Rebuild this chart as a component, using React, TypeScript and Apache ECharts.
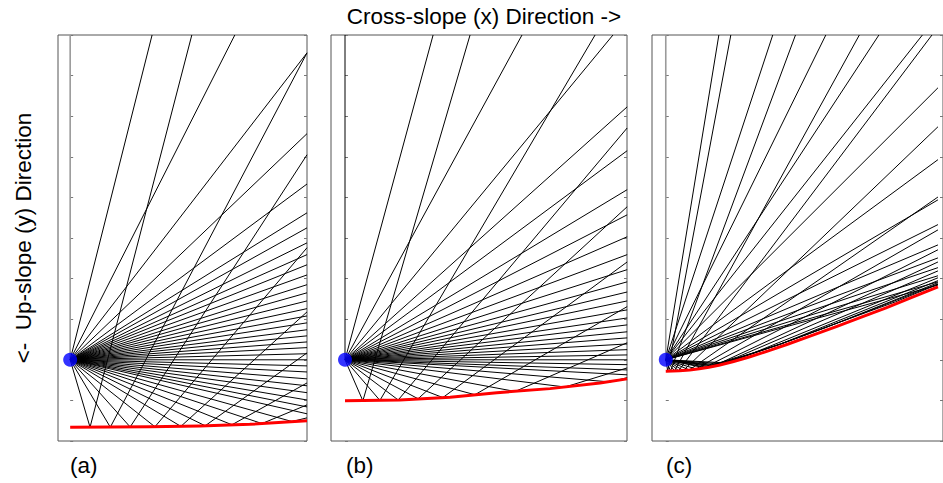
import { useEffect, useRef } from "react";
import * as echarts from "echarts";

type Pt = [number, number];

// Shared axis range (tick units); origin of every fan is (0, 0)
const Y_MIN = -2;
const Y_MAX = 8;
const X_RANGE_A: Pt = [-0.3, 5.84];
const X_RANGE_B: Pt = [-0.345, 6.946];
const X_RANGE_C: Pt = [-0.345, 6.946];

// ---------- Panel (a) ----------
const TOP_EXITS_A = [2.02, 4.06];
const RIGHT_X_A = 5.84;
const RIGHT_EXITS_A = [7.56, 5.57, 4.33, 3.62, 3.25, 2.88, 2.59, 2.34, 2.09, 1.85, 1.65, 1.45, 1.26, 1.08, 0.91, 0.74, 0.59, 0.44, 0.3, 0.15, 0, -0.15, -0.3, -0.47, -0.64, -0.81, -0.99, -1.16, -1.33];
const TURN_X_A = [0.49, 0.99, 1.48, 2.09, 2.73, 3.33, 3.99, 4.73, 5.47];
const TURN_Y_A = [-1.66, -1.66, -1.655, -1.65, -1.64, -1.625, -1.6, -1.57, -1.52];
const RETURN_EXIT_A: Pt[] = [[3.0, 8], [5.84, 7.56], [5.84, 5.05], [5.84, 2.76], [5.84, 1.18], [5.84, 0.17], [5.84, -0.57], [5.84, -1.11], [5.84, -1.43]];
const ENVELOPE_X_A = [0, 1.97, 3.2, 4.43, 5.84];
const ENVELOPE_Y_A = [-1.66, -1.65, -1.63, -1.59, -1.5];

// ---------- Panel (b) ----------
const TOP_EXITS_B = [2.17, 4.36, 6.6];
const RIGHT_X_B = 6.95;
const RIGHT_EXITS_B = [6.23, 5.15, 4.19, 3.57, 3.03, 2.59, 2.22, 1.92, 1.67, 1.45, 1.23, 1.03, 0.86, 0.69, 0.54, 0.39, 0.25, 0.12, 0, -0.12, -0.25, -0.37];
const TURN_X_B = [0.44, 0.86, 1.31, 1.8, 2.41, 3.2, 4.19, 5.42, 6.53];
const TURN_Y_B = [-1.01, -1.0, -0.99, -0.96, -0.93, -0.86, -0.78, -0.67, -0.545];
const RETURN_EXIT_B: Pt[] = [[3.08, 8], [6.16, 8], [6.95, 5.71], [6.95, 3.77], [6.95, 2.41], [6.95, 1.31], [6.95, 0.42], [6.95, -0.2], [6.95, -0.44]];
const ENVELOPE_X_B = [0, 1.35, 2.59, 3.74, 5.05, 6.28, 6.95];
const ENVELOPE_Y_B = [-1.01, -0.99, -0.92, -0.81, -0.71, -0.57, -0.47];

// ---------- Panel (c) ----------
const TOP_EXITS_C = [1.33, 2.68, 4.01, 5.34, 6.43];
const RIGHT_X_C = 6.82;
const RIGHT_EXITS_C = [6.7, 4.93, 3.94, 3.33, 2.83, 2.51, 2.27, 2.07, 1.92, 1.84];
const TURN_X_C = [0.05, 0.12, 0.22, 0.32, 0.44, 0.59, 0.76, 0.96, 1.21];
const TURN_Y_C = [-0.275, -0.275, -0.272, -0.27, -0.265, -0.25, -0.225, -0.195, -0.15];
const RETURN_EXIT_C: Pt[] = [[1.63, 8], [3.25, 8], [4.85, 8], [6.67, 8], [6.82, 5.74], [6.82, 4.01], [6.82, 3.2], [6.82, 2.71], [6.82, 2.41]];
const HUGGING_C: Pt[][] = [
  [[1.0, -0.18], [1.8, 0.07], [6.82, 2.19]],
  [[1.1, -0.165], [2.2, 0.17], [6.82, 2.02]],
  [[1.2, -0.145], [2.88, 0.39], [6.82, 1.95]],
  [[1.3, -0.125], [2.88, 0.39], [4.0, 0.79], [6.82, 1.9]],
  [[1.4, -0.1], [2.88, 0.39], [4.53, 0.99], [6.82, 1.87]],
  [[1.5, -0.075], [2.88, 0.39], [4.53, 0.99], [5.76, 1.43], [6.82, 1.86]],
];
const ENVELOPE_X_C = [0, 0.34, 0.6, 0.84, 1.08, 1.33, 1.7, 2.07, 2.55, 3.05, 3.65, 4.29, 4.9, 5.52, 6.15, 6.82];
const ENVELOPE_Y_C = [-0.283, -0.271, -0.25, -0.222, -0.183, -0.135, -0.04, 0.062, 0.215, 0.382, 0.595, 0.825, 1.05, 1.281, 1.53, 1.798];

const PANEL_LABELS = ["(a)", "(b)", "(c)"];
const TITLE_X = "Cross-slope (x) Direction ->";
const TITLE_Y = "<-  Up-slope (y) Direction";

function buildCurves(
  top: number[],
  rightX: number,
  right: number[],
  tx: number[],
  ty: number[],
  ret: Pt[],
  extra: Pt[][]
): Pt[][] {
  const curves: Pt[][] = [];
  top.forEach((x) => curves.push([[0, 0], [x, Y_MAX]]));
  right.forEach((y) => curves.push([[0, 0], [rightX, y]]));
  tx.forEach((x, i) => curves.push([[0, 0], [x, ty[i]], ret[i]]));
  extra.forEach((c) => curves.push([[0, 0], ...c]));
  return curves;
}

const PANELS = [
  {
    range: X_RANGE_A,
    curves: buildCurves(TOP_EXITS_A, RIGHT_X_A, RIGHT_EXITS_A, TURN_X_A, TURN_Y_A, RETURN_EXIT_A, []),
    env: ENVELOPE_X_A.map((x, i) => [x, ENVELOPE_Y_A[i]]),
    axisColor: "#9a9a9a",
    axisWidth: 1.6,
  },
  {
    range: X_RANGE_B,
    curves: buildCurves(TOP_EXITS_B, RIGHT_X_B, RIGHT_EXITS_B, TURN_X_B, TURN_Y_B, RETURN_EXIT_B, []),
    env: ENVELOPE_X_B.map((x, i) => [x, ENVELOPE_Y_B[i]]),
    axisColor: "#000",
    axisWidth: 1,
  },
  {
    range: X_RANGE_C,
    curves: buildCurves(TOP_EXITS_C, RIGHT_X_C, RIGHT_EXITS_C, TURN_X_C, TURN_Y_C, RETURN_EXIT_C, HUGGING_C),
    env: ENVELOPE_X_C.map((x, i) => [x, ENVELOPE_Y_C[i]]),
    axisColor: "#9a9a9a",
    axisWidth: 1.6,
  },
];

const GRID_LEFT = [58, 331, 652];
const GRID_WIDTH = [249, 296, 296];
const LABEL_X = [70, 346, 666];
const FONT = "'Liberation Sans', Arial, Helvetica, sans-serif";

export default function App() {
  const ref = useRef<HTMLDivElement>(null);

  useEffect(() => {
    if (!ref.current) return;
    const chart = echarts.init(ref.current, undefined, { renderer: "svg" });

    const grids: any[] = [];
    const xAxes: any[] = [];
    const yAxes: any[] = [];
    const series: any[] = [];

    PANELS.forEach((p, i) => {
      grids.push({
        left: GRID_LEFT[i],
        top: 35,
        width: GRID_WIDTH[i],
        height: 406,
        show: true,
        borderColor: "#555",
        borderWidth: 1,
        backgroundColor: "transparent",
        containLabel: false,
      });
      xAxes.push({
        type: "value",
        gridIndex: i,
        min: p.range[0],
        max: p.range[1],
        axisLine: { show: false },
        axisTick: { show: false },
        axisLabel: { show: false },
        splitLine: { show: false },
      });
      ["left", "right"].forEach((pos) => {
        yAxes.push({
          type: "value",
          gridIndex: i,
          position: pos,
          min: Y_MIN,
          max: Y_MAX,
          interval: 1,
          axisLine: { show: false },
          axisTick: { show: true, inside: true, length: 3, lineStyle: { color: "#777", width: 1 } },
          axisLabel: { show: false },
          splitLine: { show: false },
        });
      });
      const yi = 2 * i;
      // vertical x = 0 line
      series.push({
        type: "line",
        xAxisIndex: i,
        yAxisIndex: yi,
        data: [[0, 0], [0, Y_MAX]],
        symbol: "none",
        silent: true,
        lineStyle: { color: p.axisColor, width: p.axisWidth },
        z: 2,
      });
      p.curves.forEach((c) => {
        series.push({
          type: "line",
          xAxisIndex: i,
          yAxisIndex: yi,
          data: c,
          symbol: "none",
          silent: true,
          clip: true,
          lineStyle: { color: "#000", width: 1 },
          z: 3,
        });
      });
      series.push({
        type: "line",
        xAxisIndex: i,
        yAxisIndex: yi,
        data: p.env,
        symbol: "none",
        silent: true,
        clip: true,
        lineStyle: { color: "#ff0000", width: 3, join: "round" },
        z: 4,
      });
      series.push({
        type: "scatter",
        xAxisIndex: i,
        yAxisIndex: yi,
        data: [[0, 0]],
        symbol: "circle",
        symbolSize: 14,
        silent: true,
        itemStyle: { color: "#0000ff" },
        z: 5,
      });
    });

    const graphic: any[] = [
      {
        type: "text",
        x: 484,
        y: 16,
        style: { text: TITLE_X, fontSize: 22.5, fontFamily: FONT, fill: "#000", align: "center", verticalAlign: "middle" },
      },
      {
        type: "text",
        x: 23,
        y: 238,
        rotation: Math.PI / 2,
        style: { text: TITLE_Y, fontSize: 22.5, fontFamily: FONT, fill: "#000", align: "center", verticalAlign: "middle" },
      },
      ...PANEL_LABELS.map((t, i) => ({
        type: "text",
        x: LABEL_X[i],
        y: 465,
        style: { text: t, fontSize: 22.5, fontFamily: FONT, fill: "#000", align: "left", verticalAlign: "middle" },
      })),
    ];

    chart.setOption({
      animation: false,
      backgroundColor: "#fff",
      grid: grids,
      xAxis: xAxes,
      yAxis: yAxes,
      series,
      graphic,
    });

    return () => chart.dispose();
  }, []);

  return (
    <div
      ref={ref}
      style={{ position: "fixed", left: 0, top: 0, width: 943, height: 483, background: "#fff" }}
    />
  );
}
